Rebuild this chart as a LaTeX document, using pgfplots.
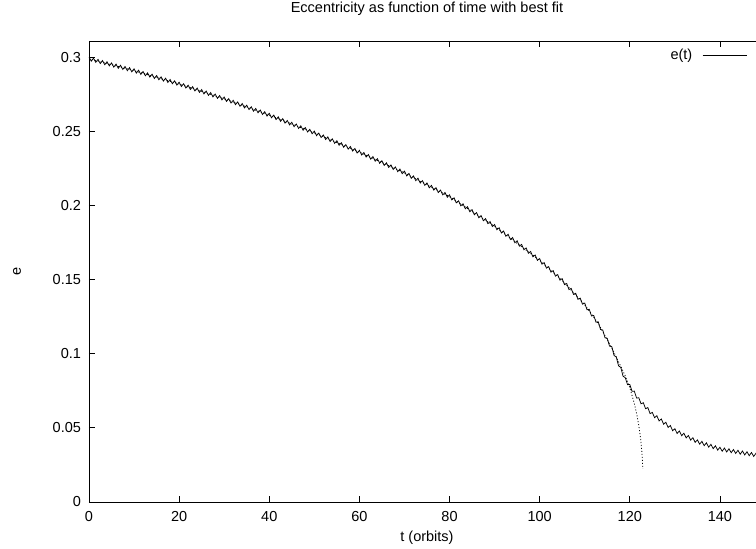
\documentclass[border=0pt]{standalone}
\usepackage{fontspec}
\setmainfont{Liberation Sans}
\usepackage{pgfplots}
\pgfplotsset{compat=1.18}
\begin{document}
\fontsize{14.5}{17}\selectfont
\begin{tikzpicture}
\path[use as bounding box] (0,0) rectangle (756pt,549pt);
\begin{axis}[
  at={(89pt,47pt)}, anchor=south west,
  scale only axis, width=676pt, height=461pt,
  xmin=0, xmax=150, ymin=0, ymax=0.311,
  xtick={0,20,40,60,80,100,120,140},
  xticklabels={0,20,40,60,80,100,120,140},
  ytick={0,0.05,0.1,0.15,0.2,0.25,0.3},
  yticklabels={0,0.05,0.1,0.15,0.2,0.25,0.3},
  tick align=inside, major tick length=6pt,
  tick style={black, line width=0.8pt},
  axis line style={black, line width=0.8pt},
  xticklabel style={yshift=-4.5pt},
  yticklabel style={xshift=-3pt},
  title={Eccentricity as function of time with best fit},
  title style={at={(axis description cs:0.5,1.056)}, anchor=center},
  xlabel={t (orbits)},
  xlabel style={at={(axis description cs:0.5,-0.078)}, anchor=center},
  ylabel={e},
  ylabel style={at={(axis description cs:-0.1066,0.5)}, anchor=center, rotate=0},
  legend plot pos=right,
  legend image code/.code={\draw[#1] (0pt,0pt) -- (44pt,0pt);},
  legend style={draw=none, fill=none, inner sep=0pt, outer sep=0pt,
    at={(axis description cs:0.9734,0.9696)}, anchor=east,
    nodes={inner sep=0pt}, column sep=10pt},
]
\addplot[black, line width=0.8pt, dash pattern=on 1pt off 2pt, forget plot] coordinates {
(0,0.2990)(10,0.2910)(20,0.2820)(30,0.2720)(40,0.2610)(50,0.2490)(60,0.2360)(70,0.2220)(80,0.2060)(90,0.1860)(100,0.1630)(105,0.1495)(110,0.1330)(113,0.1204)(116,0.1040)(118,0.0915)(119,0.0850)(120,0.0771)(121,0.0665)(121.5,0.0599)(122,0.0516)(122.4,0.0428)(122.7,0.0333)(122.9,0.0223)
};
\addplot[black, line width=0.75pt] coordinates {
(0,0.3002)(0.5,0.2974)(1,0.2994)(1.5,0.2966)(2,0.2986)(2.5,0.2958)(3,0.2978)(3.5,0.2950)(4,0.2970)(4.5,0.2942)(5,0.2962)(5.5,0.2934)(6,0.2954)(6.5,0.2926)(7,0.2946)(7.5,0.2918)(8,0.2938)(8.5,0.2910)(9,0.2930)(9.5,0.2902)
(10,0.2922)(10.5,0.28935)(11,0.2913)(11.5,0.28845)(12,0.2904)(12.5,0.28755)(13,0.2895)(13.5,0.28665)(14,0.2886)(14.5,0.28575)(15,0.2877)(15.5,0.28485)(16,0.2868)(16.5,0.28395)(17,0.2859)(17.5,0.28305)(18,0.2850)(18.5,0.28215)(19,0.2841)(19.5,0.28125)
(20,0.2832)(20.5,0.2803)(21,0.2822)(21.5,0.2793)(22,0.2812)(22.5,0.2783)(23,0.2802)(23.5,0.2773)(24,0.2792)(24.5,0.2763)(25,0.2782)(25.5,0.2753)(26,0.2772)(26.5,0.2743)(27,0.2762)(27.5,0.2733)(28,0.2752)(28.5,0.2723)(29,0.2742)(29.5,0.2713)
(30,0.2732)(30.5,0.27025)(31,0.2721)(31.5,0.26915)(32,0.2710)(32.5,0.26805)(33,0.2699)(33.5,0.26695)(34,0.2688)(34.5,0.26585)(35,0.2677)(35.5,0.26475)(36,0.2666)(36.5,0.26365)(37,0.2655)(37.5,0.26255)(38,0.2644)(38.5,0.26145)(39,0.2633)(39.5,0.26035)
(40,0.2622)(40.5,0.2592)(41,0.2610)(41.5,0.2580)(42,0.2598)(42.5,0.2568)(43,0.2586)(43.5,0.2556)(44,0.2574)(44.5,0.2544)(45,0.2562)(45.5,0.2532)(46,0.2550)(46.5,0.2520)(47,0.2538)(47.5,0.2508)(48,0.2526)(48.5,0.2496)(49,0.2514)(49.5,0.2484)
(50,0.2502)(50.5,0.24715)(51,0.2489)(51.5,0.24585)(52,0.2476)(52.5,0.24455)(53,0.2463)(53.5,0.24325)(54,0.2450)(54.5,0.24195)(55,0.2437)(55.5,0.24065)(56,0.2424)(56.5,0.23935)(57,0.2411)(57.5,0.23805)(58,0.2398)(58.5,0.23675)(59,0.2385)(59.5,0.23545)
(60,0.2372)(60.5,0.2341)(61,0.2358)(61.5,0.2327)(62,0.2344)(62.5,0.2313)(63,0.2330)(63.5,0.2299)(64,0.2316)(64.5,0.2285)(65,0.2302)(65.5,0.2271)(66,0.2288)(66.5,0.2257)(67,0.2274)(67.5,0.2243)(68,0.2260)(68.5,0.2229)(69,0.2246)(69.5,0.2215)
(70,0.2232)(70.5,0.2200)(71,0.2216)(71.5,0.2184)(72,0.2200)(72.5,0.2168)(73,0.2184)(73.5,0.2152)(74,0.2168)(74.5,0.2136)(75,0.2152)(75.5,0.2120)(76,0.2136)(76.5,0.2104)(77,0.2120)(77.5,0.2088)(78,0.2104)(78.5,0.2072)(79,0.2088)(79.5,0.2056)
(80,0.2072)(80.5,0.2038)(81,0.2052)(81.5,0.2018)(82,0.2032)(82.5,0.1998)(83,0.2012)(83.5,0.1978)(84,0.1992)(84.5,0.1958)(85,0.1972)(85.5,0.1938)(86,0.1952)(86.5,0.1918)(87,0.1932)(87.5,0.1898)(88,0.1912)(88.5,0.1878)(89,0.1892)(89.5,0.1858)
(90,0.1872)(90.5,0.1837)(91,0.1850)(91.5,0.1815)(92,0.1828)(92.5,0.1793)(93,0.1806)(93.5,0.1771)(94,0.1784)(94.5,0.1749)(95,0.1762)(95.5,0.1726)(96,0.1738)(96.5,0.1702)(97,0.1714)(97.5,0.1678)(98,0.1690)(98.5,0.1654)(99,0.1666)(99.5,0.1630)
(100,0.1642)(100.5,0.16045)(101,0.1615)(101.5,0.15775)(102,0.1588)(102.5,0.15505)(103,0.1561)(103.5,0.15235)(104,0.1534)(104.5,0.14965)(105,0.1507)(105.5,0.14665)(106,0.1474)(106.5,0.14335)(107,0.1441)(107.5,0.14005)(108,0.1408)(108.5,0.13675)(109,0.1375)(109.5,0.13345)
(110,0.1342)(110.5,0.1297)(111,0.1300)(111.5,0.1255)(112,0.1258)(112.5,0.1213)(113,0.1216)(113.5,0.1164)(114,0.1160)(114.5,0.1108)(115,0.1104)(115.5,0.1052)(116,0.1048)(116.5,0.0989)(117,0.0978)(117.5,0.0919)(118,0.0908)(118.5,0.0849)(119,0.0838)(119.5,0.07915)
(120,0.0793)(120.5,0.07465)(121,0.0748)(121.5,0.07015)(122,0.0703)(122.5,0.06625)(123,0.0670)(123.5,0.06295)(124,0.0637)(124.5,0.05965)(125,0.0604)(125.5,0.0569)(126,0.0582)(126.5,0.0547)(127,0.0560)(127.5,0.0525)(128,0.0538)(128.5,0.0503)(129,0.0516)(129.5,0.0481)
(130,0.0494)(130.5,0.04625)(131,0.0479)(131.5,0.04475)(132,0.0464)(132.5,0.04325)(133,0.0449)(133.5,0.04175)(134,0.0434)(134.5,0.04025)(135,0.0419)(135.5,0.0390)(136,0.0409)(136.5,0.0380)(137,0.0399)(137.5,0.0370)(138,0.0389)(138.5,0.0360)(139,0.0379)(139.5,0.0350)
(140,0.0369)(140.5,0.03425)(141,0.0364)(141.5,0.03375)(142,0.0359)(142.5,0.03325)(143,0.0354)(143.5,0.03275)(144,0.0349)(144.5,0.03225)(145,0.0344)(145.5,0.03175)(146,0.0339)(146.5,0.03125)(147,0.0334)(147.5,0.03075)(148,0.0329)(148.5,0.03025)(149,0.0319)(149.5,0.02975)(150,0.0314)
};
\addlegendentry{e(t)}
\end{axis}
\end{tikzpicture}
\end{document}
